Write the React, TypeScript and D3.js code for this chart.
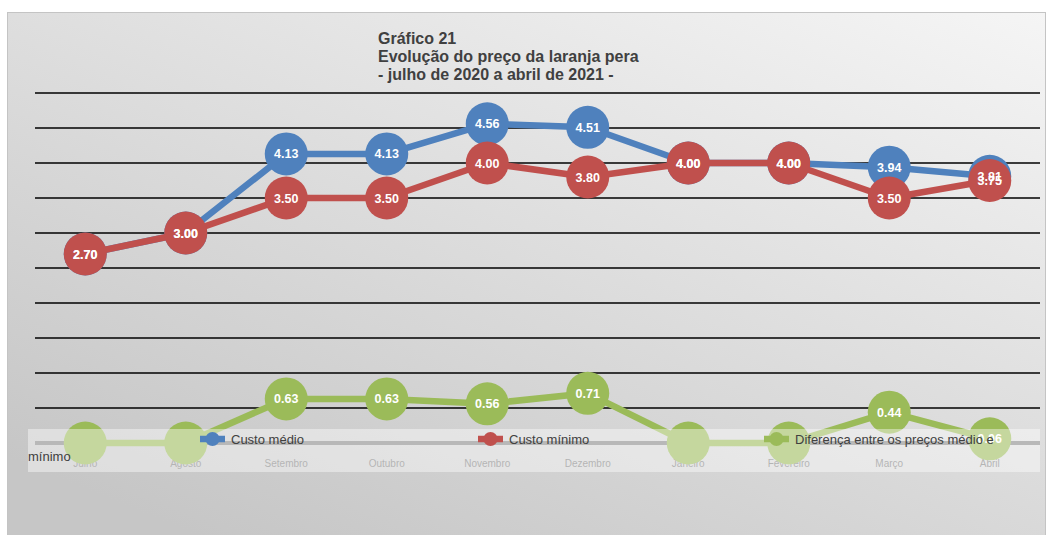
import React from "react";
import * as d3 from "d3";

const months = ["Julho", "Agosto", "Setembro", "Outubro", "Novembro", "Dezembro", "Janeiro", "Fevereiro", "Março", "Abril"];
const custoMedio = [2.7, 3.0, 4.13, 4.13, 4.56, 4.51, 4.0, 4.0, 3.94, 3.81];
const custoMinimo = [2.7, 3.0, 3.5, 3.5, 4.0, 3.8, 4.0, 4.0, 3.5, 3.75];
const diferenca = [0, 0, 0.63, 0.63, 0.56, 0.71, 0, 0, 0.44, 0.06];
const gridValues = [0.5, 1, 1.5, 2, 2.5, 3, 3.5, 4, 4.5, 5];
const titleLines = ["Gráfico 21", "Evolução do preço da laranja pera", "- julho de 2020 a abril de 2021 -"];
const legendLabels = ["Custo médio", "Custo mínimo", "Diferença entre os preços médio e"];

const W = 1053, H = 535;
const x = d3.scaleBand<string>().domain(months).range([35, 1040]);
const y = d3.scaleLinear().domain([0, 5]).range([443, 93]);
const cx = (m: string) => (x(m) as number) + x.bandwidth() / 2;

const series = [
  { name: legendLabels[0], values: custoMedio, color: "#4f81bd", showZero: true },
  { name: legendLabels[1], values: custoMinimo, color: "#c0504d", showZero: true },
  { name: legendLabels[2], values: diferenca, color: "#9bbb59", showZero: false },
];

export default function App() {
  const line = d3.line<number>().x((_, i) => cx(months[i])).y((v) => y(v));
  const font = "'Liberation Sans', Arial, sans-serif";
  return (
    <svg width={W} height={H} style={{ position: "absolute", left: 0, top: 0 }}>
      <defs>
        <linearGradient id="bg" x1="1" y1="0" x2="0.2" y2="1">
          <stop offset="0" stopColor="#f5f5f5" />
          <stop offset="1" stopColor="#c6c6c6" />
        </linearGradient>
      </defs>
      <rect x={0} y={0} width={W} height={H} fill="#ffffff" />
      <rect x={7.5} y={12.5} width={1038} height={530} fill="url(#bg)" stroke="#c4c4c4" strokeWidth={1} />
      {titleLines.map((t, i) => (
        <text key={i} x={378} y={44 + i * 18} fontFamily={font} fontWeight="bold" fontSize={16} fill="#404040">{t}</text>
      ))}
      {gridValues.map((v) => (
        <line key={v} x1={35} x2={1040} y1={y(v)} y2={y(v)} stroke="#000" strokeWidth={1.6} />
      ))}
      <line x1={35} x2={1040} y1={y(0)} y2={y(0)} stroke="#868686" strokeWidth={4} />
      {months.map((m) => (
        <text key={m} x={cx(m)} y={467} textAnchor="middle" fontFamily="'Liberation Sans Narrow', 'Liberation Sans', sans-serif" fontSize={10} fill="#7f7f7f">{m}</text>
      ))}
      {series.map((s) => (
        <g key={s.name}>
          <path d={line(s.values) || ""} fill="none" stroke={s.color} strokeWidth={6.5} strokeLinejoin="round" />
          {s.values.map((v, i) => (
            <circle key={i} cx={cx(months[i])} cy={y(v)} r={21.5} fill={s.color} />
          ))}
        </g>
      ))}
      {series.map((s) => (
        <g key={s.name + "l"}>
          {s.values.map((v, i) =>
            v === 0 && !s.showZero ? null : (
              <text key={i} x={cx(months[i])} y={y(v) + 4.5} textAnchor="middle" fontFamily={font} fontWeight="bold" fontSize={12.5} fill="#fff">{v.toFixed(2)}</text>
            )
          )}
        </g>
      ))}
      <rect x={28} y={429} width={1012} height={43} fill="#ffffff" fillOpacity={0.42} />
      {series.map((s, i) => {
        const lx = [200, 478, 764][i];
        return (
          <g key={s.name + "lg"}>
            <line x1={lx} x2={lx + 25} y1={439} y2={439} stroke={s.color} strokeWidth={6.5} />
            <circle cx={lx + 12.5} cy={439} r={7} fill={s.color} />
            <text x={lx + 31} y={444} fontFamily={font} fontSize={13} fill="#404040">{s.name}</text>
          </g>
        );
      })}
      <text x={28} y={461} fontFamily={font} fontSize={13} fill="#404040">mínimo</text>
    </svg>
  );
}
